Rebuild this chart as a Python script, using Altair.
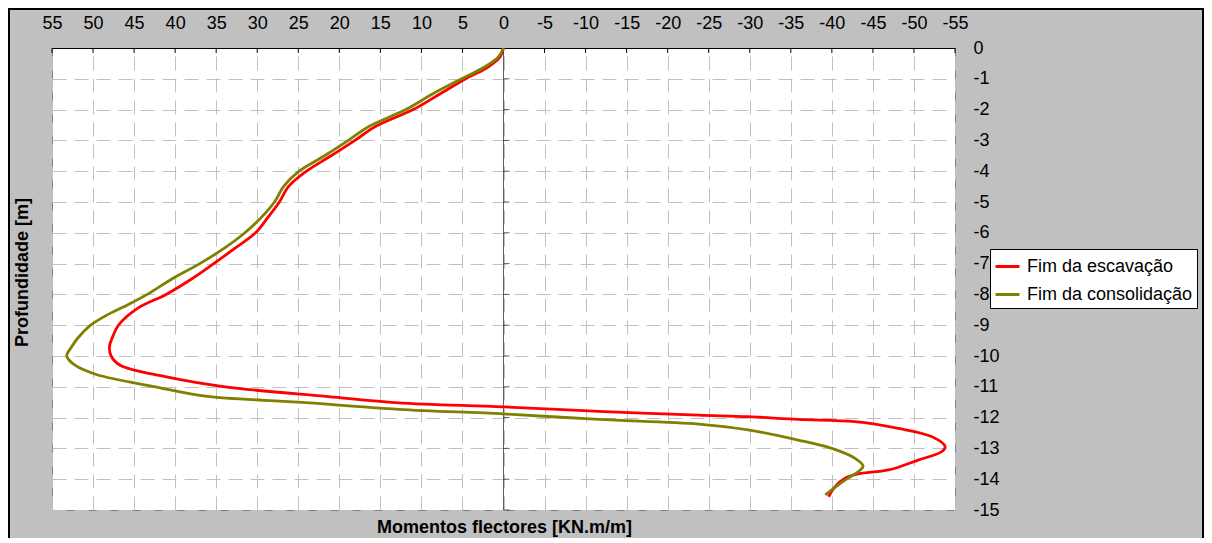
import altair as alt
import pandas as pd

series_names = ["Fim da escavação", "Fim da consolidação"]
series_colors = ["#ff0000", "#808000"]

esc_depth = [0, -0.28, -0.6, -1.0, -1.5, -2.0, -2.55, -3.0, -3.5, -4.0, -4.5, -5.0, -5.5,
             -6.0, -6.5, -7.0, -7.5, -8.0, -8.44, -9.0, -9.37, -9.7, -10.0, -10.3, -10.67,
             -11.0, -11.32, -11.52, -11.65, -11.8, -11.92, -11.97, -12.06, -12.13, -12.35,
             -12.62, -12.94, -13.1, -13.38, -13.7, -13.83, -13.97, -14.24, -14.57]
esc_moment = [0, 0.4, 1.8, 4.6, 7.8, 11.0, 15.6, 18.1, 21.0, 24.0, 26.2, 27.3, 28.7,
              30.2, 32.7, 35.3, 38.0, 41.1, 44.5, 46.9, 47.6, 48.0, 47.8, 46.7, 41.2,
              33.9, 21.3, 12.8, 0.0, -11.6, -23.75, -29.8, -35.9, -42.8, -48.1,
              -52.2, -53.8, -53.4, -50.5, -46.9, -43.2, -41.6, -40.4, -39.6]

con_depth = [0, -0.28, -0.6, -1.0, -1.5, -2.0, -2.55, -3.0, -3.5, -4.0, -4.5, -5.0, -5.5,
             -6.0, -6.5, -7.0, -7.5, -8.0, -8.33, -8.7, -9.0, -9.4, -9.7, -10.0, -10.3,
             -10.6, -11.0, -11.3, -11.5, -11.73, -11.88, -12.06, -12.21, -12.4, -12.73,
             -13.0, -13.32, -13.57, -13.76, -14.03, -14.51]
con_moment = [0, 0.6, 2.2, 5.1, 8.7, 11.9, 16.4, 18.9, 21.8, 24.9, 26.8, 27.9, 29.5,
              31.5, 34.0, 37.0, 40.4, 43.4, 45.7, 48.5, 50.3, 51.8, 52.6, 53.2, 52.2,
              49.6, 42.4, 36.3, 25.0, 12.8, 0.0, -11.6, -23.75, -29.8, -35.9,
              -40.0, -42.8, -43.8, -43.2, -41.6, -39.2]

x_ticks = list(range(-55, 60, 5))
y_ticks = list(range(-15, 1))
y_inner_ticks = list(range(-15, 0))

rows = []
for name, ds, ms in [(series_names[0], esc_depth, esc_moment),
                     (series_names[1], con_depth, con_moment)]:
    for i, (d, m) in enumerate(zip(ds, ms)):
        rows.append({"serie": name, "i": i, "prof": d, "mom": m})
df = pd.DataFrame(rows)
xt = pd.DataFrame({"v": x_ticks})
yt = pd.DataFrame({"p": y_inner_ticks})

FONT = "Liberation Sans"
XT = "Momentos flectores [KN.m/m]"
YT = "Profundidade [m]"

xscale = alt.Scale(domain=[-55, 55], reverse=True, nice=False, zero=False)
yscale = alt.Scale(domain=[-15, 0], nice=False, zero=False)

xaxis = alt.Axis(orient="top", values=x_ticks, labelExpr="'' + datum.value",
                 ticks=False, labelPadding=16, labelFontSize=18, labelFont=FONT,
                 labelColor="black", domain=True, domainColor="black", domainWidth=1,
                 grid=True, gridColor="#c0c0c0", gridDash=[14, 8], gridWidth=1,
                 title=XT, titleFont=FONT, titleFontSize=18, titleFontWeight="bold",
                 titleColor="black", titleX=452, titleY=479, titleBaseline="middle",
                 titleAlign="center", labelFlush=False, labelOverlap=False)
yaxis = alt.Axis(orient="right", values=y_ticks, labelExpr="'' + datum.value",
                 ticks=False, labelPadding=18, labelFontSize=18, labelFont=FONT,
                 labelColor="black", domain=False, labelAlign="left",
                 grid=True, gridColor="#c0c0c0", gridDash=[14, 8], gridWidth=1,
                 title=YT, titleFont=FONT, titleFontSize=18, titleFontWeight="bold",
                 titleColor="black", titleX=-933, titleY=224, titleAngle=270,
                 titleAlign="center", titleBaseline="middle",
                 labelFlush=False, labelOverlap=False)

X = lambda f: alt.X(f, scale=xscale, axis=xaxis)
Y = lambda f: alt.Y(f, scale=yscale, axis=yaxis)

lines = alt.Chart(df).mark_line(strokeWidth=2.8, clip=True,
                                interpolate="catmull-rom").encode(
    x=X("mom:Q"),
    y=Y("prof:Q"),
    color=alt.Color("serie:N",
                    scale=alt.Scale(domain=series_names, range=series_colors),
                    legend=alt.Legend(title=None, orient="none", legendX=938, legendY=201,
                                      fillColor="white", strokeColor="black", padding=4,
                                      labelFont=FONT, labelFontSize=18, labelColor="black",
                                      symbolType="stroke", symbolStrokeWidth=3,
                                      symbolSize=576, rowPadding=5, labelOffset=6,
                                      labelLimit=400)),
    order=alt.Order("i:Q"),
)

zero_line = alt.Chart(xt).mark_rule(color="#606060", strokeWidth=1).encode(
    x=alt.XDatum(0, scale=xscale, axis=xaxis),
)

zero_ticks = alt.Chart(yt).mark_tick(orient="horizontal", size=6, thickness=1,
                                     color="#202020", xOffset=3).encode(
    x=alt.XDatum(0, scale=xscale, axis=xaxis),
    y=Y("p:Q"),
)

top_ticks = alt.Chart(xt).mark_rule(color="black", strokeWidth=1).encode(
    x=X("v:Q"),
    y=alt.value(0),
    y2=alt.value(5),
)

frame = alt.Chart(xt).mark_rect(fill=None, stroke="black", strokeWidth=1.5,
                                clip=False).encode(
    x=alt.value(-43), x2=alt.value(1151), y=alt.value(-39), y2=alt.value(520),
)

chart = alt.layer(frame, zero_line, zero_ticks, top_ticks, lines).properties(
    width=903, height=462,
    autosize=alt.AutoSizeParams(type="none"),
    padding={"left": 44, "top": 40, "right": 249, "bottom": 28},
    background="#c0c0c0",
).configure_view(fill="white", stroke="#808080", strokeWidth=1)

chart.save("out.html", embed_options={"renderer": "svg", "actions": False})
